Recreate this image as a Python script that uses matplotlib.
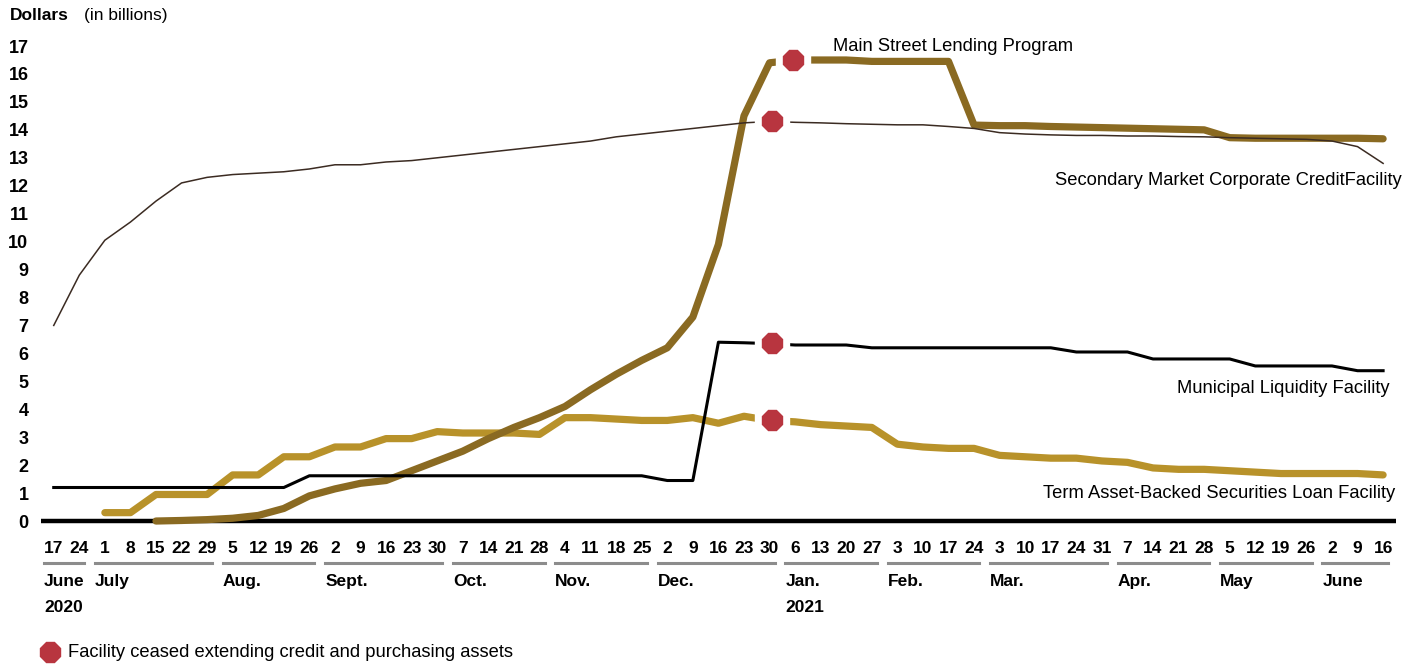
import matplotlib
matplotlib.use("Agg")
import matplotlib.pyplot as plt
import numpy as np

plt.rcParams["font.family"] = ["Liberation Sans Narrow", "Liberation Sans", "DejaVu Sans"]

# weekly dates, 17 June 2020 .. 16 June 2021
day_labels = ["17", "24",
              "1", "8", "15", "22", "29",
              "5", "12", "19", "26",
              "2", "9", "16", "23", "30",
              "7", "14", "21", "28",
              "4", "11", "18", "25",
              "2", "9", "16", "23", "30",
              "6", "13", "20", "27",
              "3", "10", "17", "24",
              "3", "10", "17", "24", "31",
              "7", "14", "21", "28",
              "5", "12", "19", "26",
              "2", "9", "16"]
months = ["June", "July", "Aug.", "Sept.", "Oct.", "Nov.", "Dec.",
          "Jan.", "Feb.", "Mar.", "Apr.", "May", "June"]
weeks_per_month = [2, 5, 4, 5, 4, 4, 5, 4, 4, 5, 4, 4, 3]
years = {0: "2020", 7: "2021"}  # month index -> year label

nan = np.nan
smccf = [7.0, 8.8, 10.05, 10.7, 11.45, 12.1, 12.3, 12.4, 12.45, 12.5, 12.6,
         12.75, 12.75, 12.85, 12.9, 13.0, 13.1, 13.2, 13.3, 13.4, 13.5, 13.6,
         13.75, 13.85, 13.95, 14.05, 14.15, 14.25, 14.3, 14.27, 14.25, 14.22,
         14.2, 14.18, 14.18, 14.12, 14.05, 13.9, 13.85, 13.82, 13.8, 13.8,
         13.78, 13.78, 13.76, 13.75, 13.72, 13.7, 13.68, 13.66, 13.6, 13.4, 12.8]
mslp = [nan, nan, nan, nan, 0.0, 0.02, 0.05, 0.1, 0.2, 0.45, 0.9,
        1.15, 1.35, 1.45, 1.8, 2.15, 2.5, 2.95, 3.35, 3.7, 4.1, 4.7,
        5.25, 5.75, 6.2, 7.3, 9.9, 14.5, 16.4, 16.5, 16.5, 16.5,
        16.45, 16.45, 16.45, 16.45, 14.17, 14.15, 14.15, 14.12, 14.1, 14.08,
        14.06, 14.04, 14.02, 14.0, 13.72, 13.7, 13.7, 13.7, 13.7, 13.7, 13.68]
mlf = [1.2, 1.2, 1.2, 1.2, 1.2, 1.2, 1.2, 1.2, 1.2, 1.2, 1.62,
       1.62, 1.62, 1.62, 1.62, 1.62, 1.62, 1.62, 1.62, 1.62, 1.62, 1.62,
       1.62, 1.62, 1.45, 1.45, 6.4, 6.38, 6.35, 6.3, 6.3, 6.3,
       6.2, 6.2, 6.2, 6.2, 6.2, 6.2, 6.2, 6.2, 6.05, 6.05,
       6.05, 5.8, 5.8, 5.8, 5.8, 5.55, 5.55, 5.55, 5.55, 5.38, 5.38]
talf = [nan, nan, 0.3, 0.3, 0.95, 0.95, 0.95, 1.65, 1.65, 2.3, 2.3,
        2.65, 2.65, 2.95, 2.95, 3.2, 3.15, 3.15, 3.15, 3.1, 3.7, 3.7,
        3.65, 3.6, 3.6, 3.7, 3.5, 3.75, 3.6, 3.55, 3.45, 3.4,
        3.35, 2.75, 2.65, 2.6, 2.6, 2.35, 2.3, 2.25, 2.25, 2.15,
        2.1, 1.9, 1.85, 1.85, 1.8, 1.75, 1.7, 1.7, 1.7, 1.7, 1.65]

# facility ceased: (week position, value)
ceased_x = [28.9, 28.1, 28.1, 28.1]
ceased_y = [16.5, 14.3, 6.37, 3.6]

RED = "#b8353f"
FS = 13.2
x = np.arange(len(day_labels))

fig = plt.figure(figsize=(14.17, 6.64), dpi=100)
ax = fig.add_axes([0.0289, 0.2069, 0.9562, 0.7322])
ax.set_xlim(-0.5, 52.5)
ax.set_ylim(-0.2, 17.2)
for s in ax.spines.values():
    s.set_visible(False)

ax.axhline(0, color="black", lw=3.2, zorder=2)
ax.plot(x, talf, color="#b8922a", lw=5.2, solid_capstyle="round", zorder=3)
ax.plot(x, mslp, color="#8a6a22", lw=5.2, solid_capstyle="round", zorder=4)
ax.plot(x, mlf, color="black", lw=2.2, zorder=5)
ax.plot(x, smccf, color="#3b2b22", lw=1.1, zorder=6)

ax.plot(ceased_x, ceased_y, ls="none", marker="8", ms=26, color="white", zorder=7)
ax.plot(ceased_x, ceased_y, ls="none", marker="8", ms=15.5, color=RED, zorder=8)

ax.set_yticks(range(18))
ax.set_yticklabels([str(v) for v in range(18)], fontsize=13, fontweight="bold")
ax.set_xticks(x)
ax.set_xticklabels(day_labels, fontsize=12.5, fontweight="bold")
ax.tick_params(axis="y", length=0, pad=9)
ax.tick_params(axis="x", length=0, pad=10)
for lab in ax.get_yticklabels():
    lab.set_horizontalalignment("right")

# month bands under the week ticks
start = 0
for i, (name, n) in enumerate(zip(months, weeks_per_month)):
    a, b = start - 0.38, start + n - 1 + 0.2
    ax.plot([a, b], [-1.5, -1.5], color="#8c8c8c", lw=2.2, clip_on=False)
    ax.text(a, -2.18, name, fontsize=12.5, fontweight="bold", va="center", ha="left")
    if i in years:
        ax.text(a, -3.11, years[i], fontsize=12.5, fontweight="bold",
                va="center", ha="left")
    start += n

# series labels
ax.text(30.48, 17.0, "Main Street Lending Program", fontsize=FS, va="center", ha="left")
ax.text(52.74, 12.2, "Secondary Market Corporate CreditFacility", fontsize=FS,
        va="center", ha="right")
ax.text(52.27, 4.76, "Municipal Liquidity Facility", fontsize=FS, va="center", ha="right")
ax.text(52.46, 0.97, "Term Asset-Backed Securities Loan Facility", fontsize=FS,
        va="center", ha="right")

# title
fig.text(0.007, 0.976, "Dollars", fontsize=12.5, fontweight="bold", va="center", ha="left")
fig.text(0.0595, 0.976, "(in billions)", fontsize=12.5, va="center", ha="left")

# legend
ax.plot([-0.16], [-4.69], ls="none", marker="8", ms=15.5, color=RED, clip_on=False)
ax.text(0.55, -4.69, "Facility ceased extending credit and purchasing assets",
        fontsize=FS, va="center", ha="left")

fig.savefig("out.png", dpi=100, facecolor="white")
